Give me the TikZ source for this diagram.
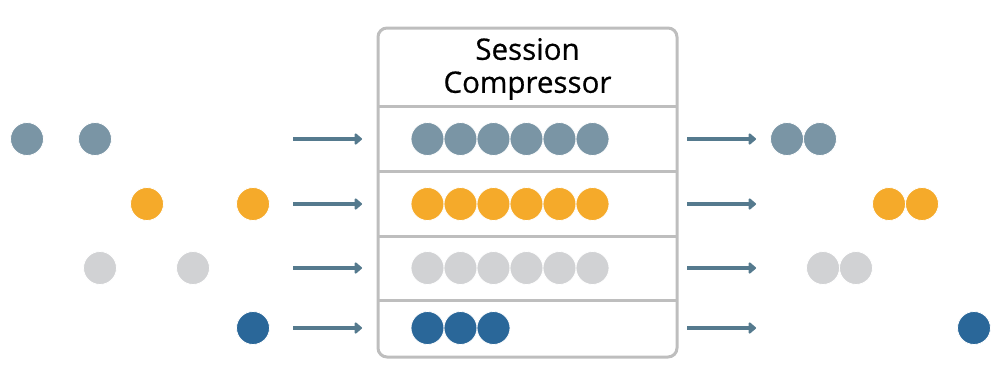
\documentclass[tikz,border=0pt]{standalone}
\usepackage{fontspec}
\setmainfont{Open Sans}[FakeBold=0.6]
\usetikzlibrary{arrows.meta}
\definecolor{cslate}{HTML}{7A95A5}
\definecolor{corange}{HTML}{F5AA2A}
\definecolor{clight}{HTML}{D1D2D4}
\definecolor{cblue}{HTML}{2A6799}
\definecolor{carrow}{HTML}{557A8E}
\definecolor{cbox}{HTML}{BEBEBE}
\tikzset{
  dot/.style={circle, minimum size=33pt, inner sep=0pt, draw=white, line width=0.8pt, fill=#1},
  flow/.style={draw=carrow, line width=4.6pt, -{Triangle[length=8pt,width=13pt,round]}},
  boxline/.style={draw=cbox, line width=3pt},
}
\begin{document}
\begin{tikzpicture}[x=1pt,y=-1pt]
\useasboundingbox (0,0) rectangle (1000,372);
% compressor box
\draw[boxline, rounded corners=9pt] (378,28) rectangle (677,357);
\foreach \yy/\nm in {106/d0,171/d1,236/d2,300/d3}{
  \draw[boxline] (378,\yy) -- (677,\yy);
}
\node[font=\fontsize{29.5}{33}\selectfont, align=center, text=black] (title) at (527.5,69) {Session\\Compressor};
% input dots
\node[dot=cslate] (i11) at (27,139) {};
\node[dot=cslate] (i12) at (95,139) {};
\node[dot=corange] (i21) at (147,204) {};
\node[dot=corange] (i22) at (253,204) {};
\node[dot=clight] (i31) at (100,268) {};
\node[dot=clight] (i32) at (193,268) {};
\node[dot=cblue] (i41) at (253,328) {};
% inner dots
\foreach \k in {0,...,5}{
  \node[dot=cslate] (a\k) at (427.5+33*\k,139) {};
}
\foreach \k in {0,...,5}{
  \node[dot=corange] (b\k) at (427.5+33*\k,204) {};
}
\foreach \k in {0,...,5}{
  \node[dot=clight] (c\k) at (427.5+33*\k,268) {};
}
\foreach \k in {0,...,2}{
  \node[dot=cblue] (e\k) at (427.5+33*\k,328) {};
}
% output dots
\node[dot=cslate] (o11) at (787,139) {};
\node[dot=cslate] (o12) at (820,139) {};
\node[dot=corange] (o21) at (889,204) {};
\node[dot=corange] (o22) at (922,204) {};
\node[dot=clight] (o31) at (823,268) {};
\node[dot=clight] (o32) at (856,268) {};
\node[dot=cblue] (o41) at (974,328) {};
% arrows
\foreach \r/\yy in {1/139,2/204,3/268,4/328}{
  \coordinate (ls\r) at (293,\yy);
  \coordinate (le\r) at (362,\yy);
  \coordinate (rs\r) at (687,\yy);
  \coordinate (re\r) at (756,\yy);
  \draw[flow] (ls\r) -- (le\r);
  \draw[flow] (rs\r) -- (re\r);
}
\end{tikzpicture}
\end{document}
